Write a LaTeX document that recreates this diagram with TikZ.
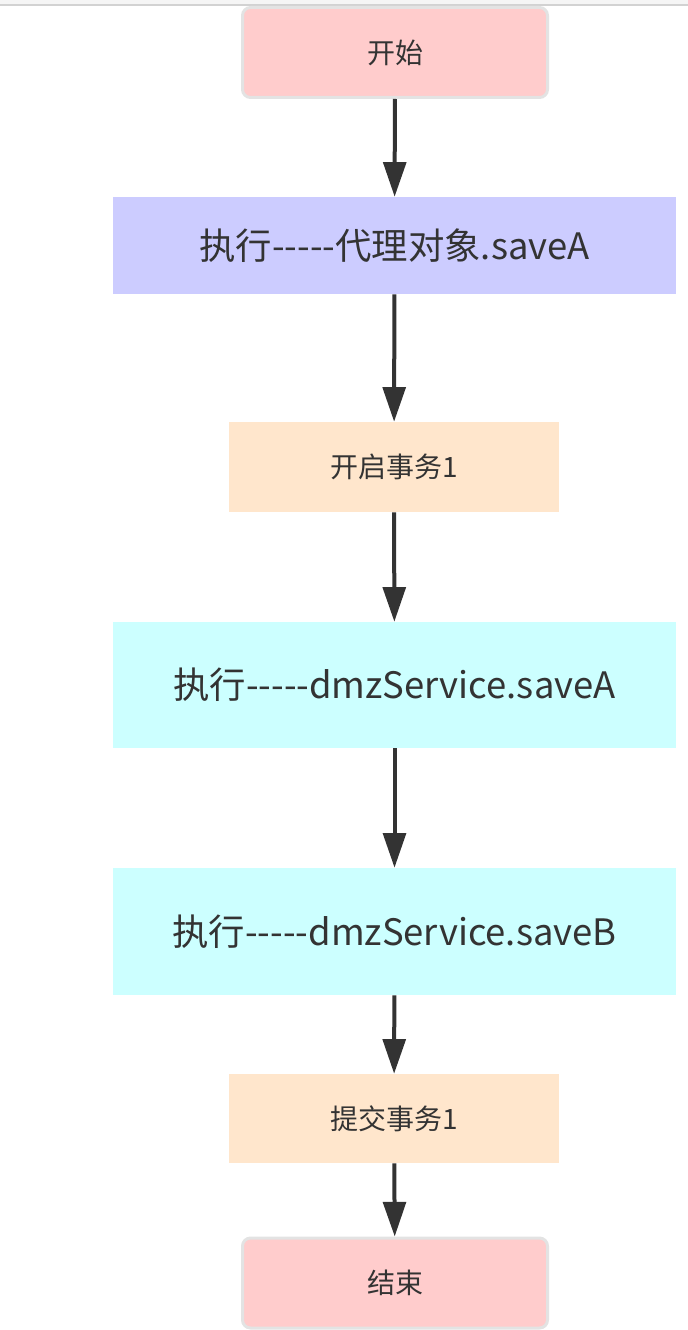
\documentclass[tikz,border=0pt]{standalone}
\usepackage{fontspec}
\newfontfamily\cjk{Noto Sans CJK SC}
\usepackage{tikz}
\usetikzlibrary{shapes,arrows,arrows.meta,positioning,calc}

\definecolor{textgray}{HTML}{333333}
\definecolor{startred}{HTML}{FFCCCC}
\definecolor{proxyblue}{HTML}{CCCCFF}
\definecolor{txorange}{HTML}{FFE6CC}
\definecolor{svccyan}{HTML}{CCFFFF}
\definecolor{edgegray}{HTML}{E3E3E3}

\tikzset{
    box/.style={inner sep=0pt, text=textgray, font=\cjk\fontsize{21}{25}\selectfont},
    terminal/.style={box, fill=startred, draw=edgegray, line width=2.25pt, rounded corners=6pt,
        minimum width=228.75pt, minimum height=67.5pt},
    bigbox/.style={box, minimum width=422.25pt, font=\cjk\fontsize{27.3}{33}\selectfont},
    txbox/.style={box, fill=txorange, minimum width=247.5pt, minimum height=67.5pt},
    flow/.style={line width=3pt, textgray, -{Triangle[length=26pt, width=17pt]}}
}

\begin{document}
\begin{tikzpicture}[x=0.75pt, y=-0.75pt]
    \useasboundingbox (0,0) rectangle (688,1330);

    % Window edge at the top
    \fill[gray!8] (0,0) rectangle (688,5);
    \draw[gray!35, line width=1pt] (0,5) -- (688,5);

    % Steps
    \node[terminal] (start) at (395, 52.5) {开始};
    \node[bigbox, fill=proxyblue, minimum height=72.75pt] (proxy) at (394.5, 245.5) {执行-----代理对象.saveA};
    \node[txbox] (begin) at (394, 467) {开启事务1};
    \node[bigbox, fill=svccyan, minimum height=94.5pt] (saveA) at (394.5, 685) {执行-----dmzService.saveA};
    \node[bigbox, fill=svccyan, minimum height=95.25pt] (saveB) at (394.5, 931.5) {执行-----dmzService.saveB};
    \node[txbox, minimum height=66.75pt] (commit) at (394, 1118.5) {提交事务1};
    \node[terminal] (end) at (395, 1283) {结束};

    % Arrows between steps
    \foreach \from/\to in {start/proxy, proxy/begin, begin/saveA, saveA/saveB, saveB/commit, commit/end}
        \draw[flow] (\from) -- (\to);
\end{tikzpicture}
\end{document}
